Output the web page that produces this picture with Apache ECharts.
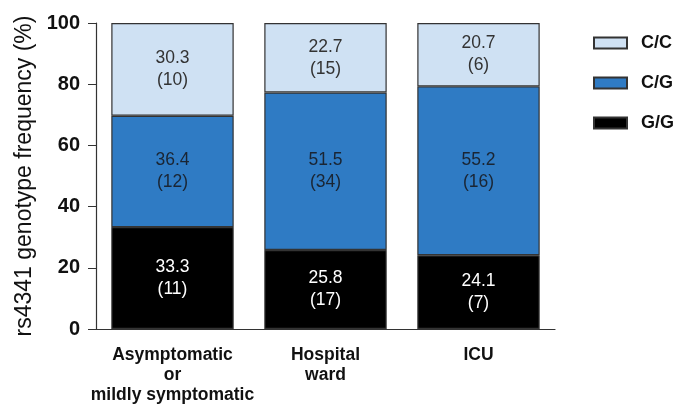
<!DOCTYPE html>
<html lang="en">
<head>
    <meta charset="UTF-8">
    <title>rs4341</title>
    <script src="https://cdn.jsdelivr.net/npm/echarts@6/dist/echarts.min.js"></script>
    <style>
        * { margin: 0; padding: 0; }
        #main { width: 685px; height: 412px; background: #fff; }
    </style>
</head>
<body>
    <div id="main"></div>
    <script>
        var groups = ['Asymptomatic\nor\nmildly symptomatic', 'Hospital\nward', 'ICU'];
        var ggPct = [33.3, 25.8, 24.1];
        var ggN = [11, 17, 7];
        var cgPct = [36.4, 51.5, 55.2];
        var cgN = [12, 34, 16];
        var ccPct = [30.3, 22.7, 20.7];
        var ccN = [10, 15, 6];
        var yTicks = [0, 20, 40, 60, 80, 100];

        var chart = echarts.init(document.getElementById('main'));
        var font = 'Arial, "Liberation Sans", sans-serif';

        function makeSeries(name, pct, n, color, textColor) {
            return {
                name: name,
                type: 'bar',
                stack: 'all',
                barCategoryGap: '20%',
                data: pct.map(function (v, i) { return { value: v, n: n[i] }; }),
                itemStyle: { color: color, borderColor: '#333', borderWidth: 1.2 },
                label: {
                    show: true,
                    position: 'inside',
                    color: textColor,
                    fontFamily: font,
                    fontSize: 17.5,
                    lineHeight: 22,
                    formatter: function (p) { return p.value + '\n(' + p.data.n + ')'; }
                }
            };
        }

        var option = {
            backgroundColor: '#fff',
            animation: false,
            textStyle: { fontFamily: font },
            grid: { left: 96, right: 130, top: 23, bottom: 83 },
            legend: {
                orient: 'vertical',
                left: 588,
                top: 29,
                icon: 'rect',
                itemWidth: 33,
                itemHeight: 11,
                itemGap: 22,
                data: ['C/C', 'C/G', 'G/G'],
                textStyle: { fontSize: 18, fontWeight: 'bold', color: '#111', padding: [0, 0, 0, 9] }
            },
            xAxis: {
                type: 'category',
                data: groups,
                axisLine: { lineStyle: { color: '#333', width: 1.2 } },
                axisTick: { alignWithLabel: true, length: 4, lineStyle: { color: '#333' } },
                axisLabel: { color: '#111', fontWeight: 'bold', fontSize: 17.5, lineHeight: 20, margin: 16, interval: 0 }
            },
            yAxis: {
                type: 'value',
                min: yTicks[0],
                max: yTicks[yTicks.length - 1],
                interval: 20,
                name: 'rs4341 genotype frequency (%)',
                nameLocation: 'middle',
                nameGap: 57,
                nameTextStyle: { fontSize: 23, color: '#111', fontWeight: 'normal' },
                axisLine: { show: true, lineStyle: { color: '#333', width: 1.2 } },
                axisTick: { show: true, length: 8, lineStyle: { color: '#333' } },
                splitLine: { show: false },
                axisLabel: { color: '#111', fontWeight: 'bold', fontSize: 20, margin: 16 }
            },
            series: [
                makeSeries('G/G', ggPct, ggN, '#000000', '#ffffff'),
                makeSeries('C/G', cgPct, cgN, '#2f7bc4', '#1a2533'),
                makeSeries('C/C', ccPct, ccN, '#cfe1f3', '#333333')
            ]
        };
        chart.setOption(option);
    </script>
</body>
</html>
